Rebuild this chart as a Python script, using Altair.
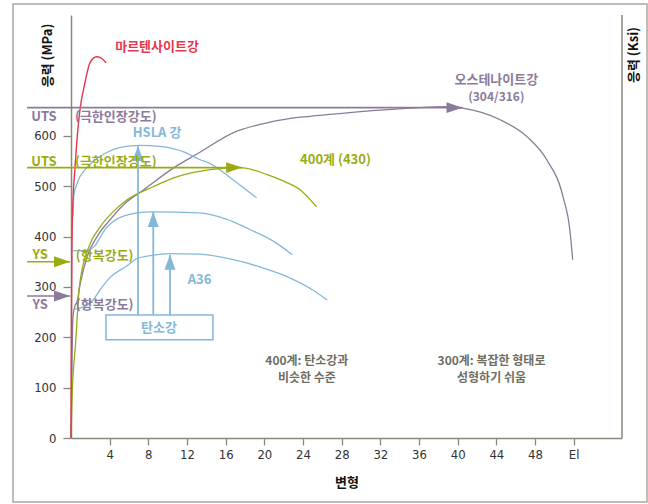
import altair as alt
import pandas as pd

# ---- stress-strain curves: strain (%) vs. stress (MPa) ----------------------
martensite_strain = [0, 0.05, 0.1, 0.2, 0.35, 0.5, 0.65, 0.93, 1.45, 1.96, 2.65, 3.1, 3.62]
martensite_stress = [0, 250, 380, 470, 520, 560, 600, 652, 706, 745, 757, 755, 745]

austenite_strain = [0, 0.1, 0.2, 0.4, 0.62, 0.93, 1.65, 2.7, 4.03, 5.6, 7.45, 10.5, 13.3,
                    16.76, 20.3, 23.7, 27.1, 32.0, 36.0, 38.7, 40.5, 44.4, 47.2, 49.2, 50.9, 51.6, 51.9]
austenite_stress = [0, 150, 240, 262, 270, 304, 359, 400, 433, 466, 492, 535, 567,
                    606, 626, 637, 643, 651, 656, 658, 655, 632, 598, 553, 479, 414, 354]

ferritic_strain = [0, 0.1, 0.5, 0.83, 1.14, 1.45, 2.17, 3.0, 4.34, 5.8, 8.5, 11.0, 14.4, 17.5,
                   20.3, 22.0, 23.7, 25.4]
ferritic_stress = [0, 75, 195, 294, 334, 358, 394, 419, 449, 473, 499, 519, 533, 537,
                   523, 510, 493, 459]

hsla_strain = [0.2, 0.3, 0.7, 1.45, 2.3, 3.5, 5.1, 7.1, 9.2, 11.8, 13.3, 14.4, 16.75, 19.2]
hsla_stress = [440, 483, 509, 533, 549, 565, 577, 581, 579, 567, 553, 545, 513, 477]

carbon_strain = [0.2, 1.5, 2.5, 3.0, 3.6, 4.3, 5.5, 8.2, 13.3, 16.0, 18.5, 21.0, 22.9]
carbon_stress = [372, 372, 382, 398, 416, 429, 441, 449, 447, 435, 414, 390, 364]

a36_strain = [0.3, 1.45, 2.3, 3.0, 4.0, 5.8, 6.8, 8.2, 10.2, 13.3, 16.8, 19.5, 21.9, 25.0, 26.5]
a36_stress = [256, 262, 274, 294, 318, 342, 356, 362, 366, 365, 354, 340, 324, 294, 274]

# reference levels (MPa)
uts_austenite = 656
uts_ferritic = 537
ys_ferritic = 350
ys_austenite = 282

# carbon-steel family arrows: strain position and the peak each one points at
carbon_arrow_x = [6.93, 8.51, 10.24]
carbon_arrow_top = [580, 449, 364]

# axis ticks
x_ticks = [4, 8, 12, 16, 20, 24, 28, 32, 36, 40, 44, 48, 52]
y_ticks = [0, 100, 200, 300, 400, 500, 600]

# ---- styling -----------------------------------------------------------------
RED = "#e5374d"
PURPLE = "#8b7b9b"
GREEN = "#9aab12"
BLUE = "#84b8d8"
GREY_TXT = "#6e6e62"
AXIS = "#8a887c"
KR = "Noto Sans CJK KR"
NUM = "Liberation Sans Narrow, DejaVu Sans Condensed, sans-serif"

W, H = 551, 423
xs = alt.Scale(domain=[0, 57], nice=False, zero=False)
ys = alt.Scale(domain=[0, 840], nice=False, zero=False)

RIGHT_HEAD = "M0,0L-1,-0.34L-1,0.34Z"
UP_HEAD = "M0,0L0.37,1L-0.37,1Z"

one = pd.DataFrame({"k": [0]})

# the axes are defined once, on the first layer; the other layers share its scales
x_axis = alt.Axis(values=x_ticks, labelExpr="datum.value == 52 ? 'El' : datum.label",
                  title="변형", titleFont=KR, titleFontSize=13, titleFontWeight="bold",
                  titleColor="#111", titleY=44, titleBaseline="middle",
                  tickSize=7, labelPadding=3, grid=False)
y_axis = alt.Axis(values=y_ticks, title="응력 (MPa)", titleFont=KR, titleFontSize=13,
                  titleFontWeight="bold", titleColor="#111", titleAngle=270,
                  titleX=-24, titleY=40, titleAlign="center", titleBaseline="middle",
                  tickSize=8, labelPadding=7, grid=False)

axes_df = pd.DataFrame({"strain": [0, 57], "stress": [0, 840]})
axes_layer = alt.Chart(axes_df).mark_point(opacity=0).encode(
    x=alt.X("strain:Q", scale=xs, axis=x_axis),
    y=alt.Y("stress:Q", scale=ys, axis=y_axis),
)


def X(field):
    return alt.X(field, scale=xs)


def Y(field):
    return alt.Y(field, scale=ys)


def curve(strain, stress, color, width=1.3):
    df = pd.DataFrame({"strain": strain, "stress": stress})
    return alt.Chart(df).mark_line(color=color, strokeWidth=width, interpolate="monotone").encode(
        x=X("strain:Q"), y=Y("stress:Q"))


def hline(level, x_start, x_tip, color):
    df = pd.DataFrame({"strain": [x_start], "x2": [x_tip], "stress": [level]})
    line = alt.Chart(df).mark_rule(color=color, strokeWidth=1.6).encode(
        x=X("strain:Q"), x2="x2:Q", y=Y("stress:Q"))
    head = alt.Chart(df).mark_point(shape=RIGHT_HEAD, filled=True, size=1024, opacity=1,
                                    color=color, strokeWidth=0).encode(
        x=X("x2:Q"), y=Y("stress:Q"))
    return [line, head]


def label(text, x, y, color, size=13, align="center", weight="bold", font=KR):
    df = pd.DataFrame({"strain": [x], "stress": [y], "t": [text]})
    return alt.Chart(df).mark_text(color=color, fontSize=size, font=font, fontWeight=weight,
                                   align=align, baseline="middle").encode(
        x=X("strain:Q"), y=Y("stress:Q"), text="t:N")


# outer frame and right-hand border
frame = alt.Chart(one).mark_rect(filled=False, stroke="#a9a89f", strokeWidth=1.5).encode(
    x=alt.value(-58), x2=alt.value(576), y=alt.value(-11), y2=alt.value(487))
right_border = alt.Chart(one).mark_rule(color=AXIS, strokeWidth=1.5).encode(
    x=alt.value(W), y=alt.value(0), y2=alt.value(H))
right_title = alt.Chart(one).mark_text(text="응력 (Ksi)", font=KR, fontSize=13, fontWeight="bold",
                                       color="#111", angle=270, align="center",
                                       baseline="middle").encode(
    x=alt.value(563), y=alt.value(40))

# carbon steel box and arrows
box_df = pd.DataFrame({"strain": [3.62], "x2": [14.68], "stress": [195], "y2": [244.5]})
box = alt.Chart(box_df).mark_rect(fill="white", stroke=BLUE, strokeWidth=1.5).encode(
    x=X("strain:Q"), x2="x2:Q", y=Y("stress:Q"), y2="y2:Q")
arr_df = pd.DataFrame({"strain": carbon_arrow_x, "top": carbon_arrow_top,
                       "stress": [244.5] * len(carbon_arrow_x)})
arr_lines = alt.Chart(arr_df).mark_rule(color=BLUE, strokeWidth=1.8).encode(
    x=X("strain:Q"), y=Y("stress:Q"), y2="top:Q")
arr_heads = alt.Chart(arr_df).mark_point(shape=UP_HEAD, filled=True, size=900, opacity=1,
                                         color=BLUE, strokeWidth=0).encode(
    x=X("strain:Q"), y=Y("top:Q"))

layers = [
    axes_layer,
    frame,
    right_border,
    right_title,
    curve(austenite_strain, austenite_stress, PURPLE),
    curve(hsla_strain, hsla_stress, BLUE),
    curve(carbon_strain, carbon_stress, BLUE),
    curve(a36_strain, a36_stress, BLUE),
    curve(ferritic_strain, ferritic_stress, GREEN),
    curve(martensite_strain, martensite_stress, RED, width=1.4),
    *hline(uts_austenite, -4.55, 40.5, PURPLE),
    *hline(uts_ferritic, -4.55, 17.7, GREEN),
    *hline(ys_ferritic, -4.55, -0.1, GREEN),
    *hline(ys_austenite, -4.55, -0.1, PURPLE),
    arr_lines,
    box,
    arr_heads,
    label("마르텐사이트강", 8.9, 777, RED),
    label("HSLA 강", 8.9, 606, BLUE),
    label("400계 (430)", 23.7, 553, GREEN, align="left"),
    label("오스테나이트강", 44.0, 710, PURPLE),
    label("(304/316)", 44.0, 677, PURPLE, size=12),
    label("A36", 13.3, 314, BLUE),
    label("탄소강", 9.1, 219, BLUE),
    label("400계: 탄소강과", 24.4, 153, GREY_TXT, size=12),
    label("비슷한 수준", 24.4, 119, GREY_TXT, size=12),
    label("300계: 복잡한 형태로", 43.5, 153, GREY_TXT, size=12),
    label("성형하기 쉬움", 43.5, 119, GREY_TXT, size=12),
    label("UTS", -2.8, 638, PURPLE),
    label("(극한인장강도)", 0.41, 638, PURPLE, align="left"),
    label("UTS", -2.8, 548, GREEN),
    label("(극한인장강도)", 0.41, 548, GREEN, align="left"),
    label("YS", -3.2, 363, GREEN),
    label("(항복강도)", 0.5, 361, GREEN, align="left"),
    label("YS", -3.2, 264, PURPLE),
    label("(항복강도)", 0.5, 264, PURPLE, align="left"),
]

chart = alt.layer(*layers).properties(
    width=W, height=H,
    padding={"left": 71, "top": 15, "right": 26, "bottom": 66},
    autosize=alt.AutoSizeParams(type="none"),
    background="white",
).configure_view(stroke=None).configure_axis(
    domainColor=AXIS, domainWidth=1.5, tickColor=AXIS, tickWidth=1.3,
    labelFont=NUM, labelFontSize=13, labelColor="#333",
)

chart.save("out.html", embed_options={"renderer": "svg", "actions": False})
